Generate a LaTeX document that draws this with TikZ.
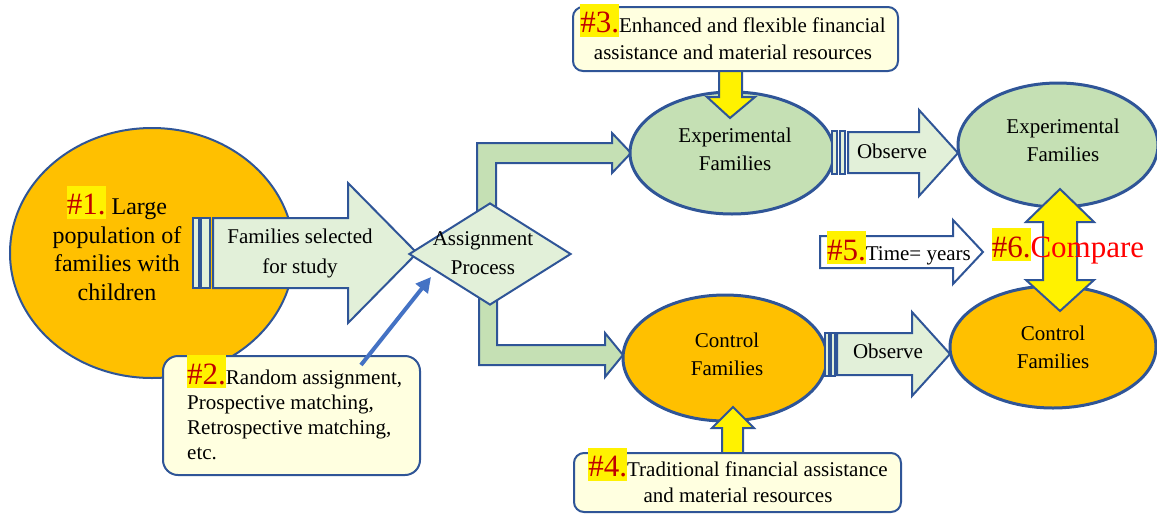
\documentclass[tikz,border=0pt]{standalone}
\usepackage{fontspec}
\setmainfont{Liberation Serif}
\usetikzlibrary{shapes.geometric,arrows.meta}
\definecolor{bdr}{HTML}{2F5597}
\definecolor{orng}{HTML}{FFC000}
\definecolor{lgreen}{HTML}{E2F0D9}
\definecolor{mgreen}{HTML}{C5E0B4}
\definecolor{notefill}{HTML}{FFFFE0}
\definecolor{hashred}{HTML}{C00000}
\definecolor{arrblue}{HTML}{4472C4}
\definecolor{brightred}{HTML}{FF0000}
\newcommand{\hashtag}[1]{{\setlength{\fboxsep}{0pt}\colorbox{yellow}{\rule[-4pt]{0pt}{33pt}\fontsize{31}{31}\selectfont\color{hashred}#1}}}
\begin{document}
\begin{tikzpicture}[x=1pt,y=-1pt,
  blk/.style={draw=bdr,line width=2pt,line join=miter},
  lg/.style={blk,fill=lgreen},
  yel/.style={blk,fill=yellow},
  ell/.style={ellipse,draw=bdr,line width=3pt,inner sep=0pt},
  notebox/.style={draw=bdr,line width=2pt,fill=notefill,rounded corners=10pt,inner sep=0pt},
  txt/.style={inner sep=0pt,align=center,font=\fontsize{21}{28}\selectfont},
  ltxt/.style={inner sep=0pt,align=left,font=\fontsize{21}{25.2}\selectfont}]
\useasboundingbox (0,0) rectangle (1157,515);

% #1 population
\node[ellipse,draw=bdr,line width=2pt,fill=orng,minimum width=284pt,minimum height=250pt,inner sep=0pt] (pop) at (152,253) {};
\node[txt,font=\fontsize{24}{28.5}\selectfont] (poptxt) at (117,243) {\hashtag{\#1.} Large\\population of\\families with\\children};

% families selected arrow
\draw[lg] (193,218) rectangle (199,288);
\draw[lg] (201,218) rectangle (210,288);
\draw[lg] (213,218) -- (348,218) -- (348,183) -- (417,253) -- (348,323) -- (348,288) -- (213,288) -- cycle;
\node[txt,font=\fontsize{21}{30}\selectfont] (seltxt) at (300,253) {Families selected\\for study};

% bent arrows
\draw[blk,fill=mgreen] (477,240) -- (477,143) -- (612,143) -- (612,133) -- (631,153) -- (612,173) -- (612,163) -- (496,163) -- (496,240) -- cycle;
\draw[blk,fill=mgreen] (479,270) -- (479,365) -- (605,365) -- (605,377) -- (623,355) -- (605,333) -- (605,345) -- (497,345) -- (497,270) -- cycle;

% assignment diamond
\node[diamond,lg,aspect=1.6,minimum width=162pt,minimum height=102pt,inner sep=0pt] (assign) at (490,254) {};
\node[txt,font=\fontsize{21}{29}\selectfont] (assigntxt) at (483,253) {Assignment\\Process};

% #2 box
\node[notebox,rounded corners=15pt,minimum width=257pt,minimum height=119pt] (note2) at (291.5,415.5) {};
\node[ltxt,anchor=west] (note2txt) at (187,407.5) {\hashtag{\#2.}Random assignment,\\Prospective matching,\\Retrospective matching,\\etc.};
\coordinate (b2s) at (361,365);
\coordinate (b2e) at (431,277);
\draw[line width=4pt,arrblue,-{Triangle[length=15pt,width=15pt]}] (b2s) -- (b2e);

% middle ellipses
\node[ell,fill=mgreen,minimum width=204pt,minimum height=122pt] (expA) at (732,153) {};
\node[txt] (expAtxt) at (735,149) {Experimental\\Families};
\node[ell,fill=orng,minimum width=204pt,minimum height=126pt] (conA) at (725,358) {};
\node[txt] (conAtxt) at (727,354) {Control\\Families};

% yellow arrows from notes
\draw[yel] (719,70) -- (719,97) -- (707,97) -- (730,118) -- (755,97) -- (742,97) -- (742,70) -- cycle;
\draw[yel] (722,454) -- (722,428) -- (712,428) -- (733,407) -- (754,428) -- (743,428) -- (743,454) -- cycle;

% #3 and #4 boxes
\node[notebox,minimum width=325pt,minimum height=64pt] (note3) at (735.5,39) {};
\node[txt,font=\fontsize{21}{27}\selectfont] (note3txt) at (733,32) {\hashtag{\#3.}Enhanced and flexible financial\\assistance and material resources};
\node[notebox,minimum width=327pt,minimum height=59pt] (note4) at (737.5,482.5) {};
\node[txt,font=\fontsize{21}{26}\selectfont] (note4txt) at (738,475.5) {\hashtag{\#4.}Traditional financial assistance\\and material resources};

% observe arrows
\draw[lg] (832,131) rectangle (837,174);
\draw[lg] (840,131) rectangle (845,174);
\draw[lg] (848,132) -- (919,132) -- (919,110) -- (958,153) -- (919,196) -- (919,173) -- (848,173) -- cycle;
\node[txt] (obs1) at (892,151) {Observe};
\draw[lg] (825,333) rectangle (829,376);
\draw[lg] (831,333) rectangle (835,376);
\draw[lg] (837,333) -- (912,333) -- (912,312) -- (950,354) -- (912,396) -- (912,375) -- (837,375) -- cycle;
\node[txt] (obs2) at (888,351) {Observe};

% right ellipses
\node[ell,fill=mgreen,minimum width=200pt,minimum height=124pt] (expB) at (1058,145) {};
\node[txt] (expBtxt) at (1063,140.5) {Experimental\\Families};
\node[ell,fill=orng,minimum width=206pt,minimum height=122pt] (conB) at (1053,347) {};
\node[txt] (conBtxt) at (1053,347) {Control\\Families};

% #5 time arrow
\draw[blk,fill=white] (820,236) -- (953,236) -- (953,220) -- (983,252) -- (953,284) -- (953,268) -- (820,268) -- cycle;
\node[txt] (timetxt) at (899,248) {\hashtag{\#5.}Time= years};

% #6 compare double arrow
\draw[yel] (1060,189) -- (1094,222) -- (1077,222) -- (1077,280) -- (1094,280) -- (1060,311) -- (1026,280) -- (1043,280) -- (1043,222) -- (1026,222) -- cycle;
\node[txt] (cmptxt) at (1068,246) {\hashtag{\#6.}{\fontsize{31}{31}\selectfont\color{brightred}Compare}};
\end{tikzpicture}
\end{document}
